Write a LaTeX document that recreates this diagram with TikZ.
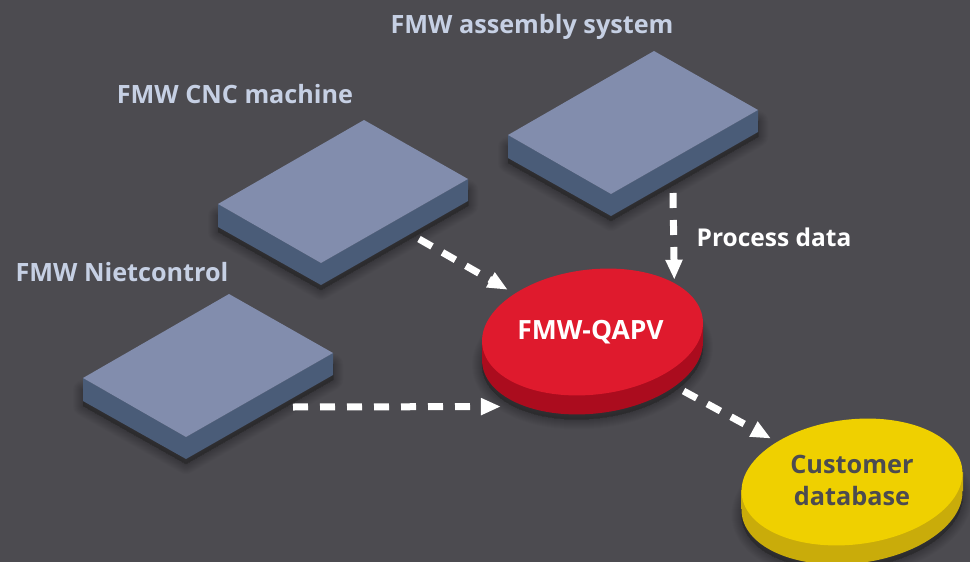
\documentclass[tikz,border=0pt]{standalone}
\usepackage{fontspec}
\setmainfont{Open Sans}
\usetikzlibrary{arrows.meta,shapes.geometric}
\definecolor{bg}{HTML}{4C4B50}
\definecolor{boxtop}{HTML}{828DAD}
\definecolor{boxside}{HTML}{4A5C78}
\definecolor{lab}{HTML}{C6D0E4}
\definecolor{redtop}{HTML}{DF1A2D}
\definecolor{redside}{HTML}{AB0C1E}
\definecolor{yeltop}{HTML}{EFD000}
\definecolor{yelside}{HTML}{C9AC0A}
\tikzset{
  x=1pt,y=-1pt,
  toplabel/.style={font=\fontsize{25.2}{25}\selectfont\bfseries,text=lab,inner sep=0pt},
  processlabel/.style={font=\fontsize{24.5}{25}\selectfont\bfseries,text=white,inner sep=0pt},
  flow/.style={draw=white,line width=7pt,dash pattern=on 15pt off 12pt,
    -{Triangle[length=20pt,width=16pt,fill=white]}},
  disc/.style={ellipse,minimum width=222pt,minimum height=125pt,inner sep=0pt,outer sep=0pt,rotate=6.8},
  qapvtext/.style={font=\fontsize{26.5}{32}\selectfont\bfseries,inner sep=0pt,align=center},
  custtext/.style={font=\fontsize{25.3}{32}\selectfont\bfseries,inner sep=0pt,align=center},
  softshadow/.style={fill=black,draw=black,opacity=0.018,line join=round},
}
\newcommand{\slab}[2]{%
  \begin{scope}[shift={(#1,#2)}]
    \foreach \w in {2,4,...,20}
      \draw[softshadow,line width=\w pt] (218,232)--(321,290)--(468,206)--(468,190)--(321,274)--(218,216)--cycle;
    \fill[boxside] (218,204)--(321,263)--(468,179)--(468,201)--(321,285)--(218,227)--cycle;
    \fill[boxtop] (218,204)--(364,120)--(468,179)--(321,263)--cycle;
  \end{scope}}
\begin{document}
\begin{tikzpicture}
\useasboundingbox (0,0) rectangle (970,562);
\clip (0,0) rectangle (970,562);
\fill[bg] (0,0) rectangle (970,562);
% boxes
\slab{290}{-69}
\slab{0}{0}
\slab{-135}{174}
% disc shadows
\foreach \w in {2,4,...,20}{
  \draw[softshadow,line width=\w pt,rotate around={6.8:(592.5,356)}] (592.5,356) ellipse (111 and 62.5);
  \draw[softshadow,line width=\w pt,rotate around={6.8:(852,506)}] (852,506) ellipse (111 and 62.5);
}
% red disc
\fill[redside] (482,340)--(703,322)--(703,341)--(482,359)--cycle;
\node[disc,fill=redside] (qapvbase) at (592.5,351) {};
\node[disc,fill=redtop] (qapv) at (592.5,332) {};
% yellow disc
\fill[yelside] (741,490)--(963,472)--(963,491)--(741,509)--cycle;
\node[disc,fill=yelside] (custbase) at (852,501) {};
\node[disc,fill=yeltop] (cust) at (852,482) {};
% labels
\node[toplabel] (lassembly) at (532,27) {FMW assembly system};
\node[toplabel] (lcnc) at (235,94) {FMW CNC machine};
\node[toplabel] (lniet) at (122,272) {FMW Nietcontrol};
\node[qapvtext,text=white] (tqapv) at (590.5,332) {FMW-QAPV};
\node[custtext,text=bg] (tcust) at (852,480) {Customer\\database};
\node[processlabel] (lprocess) at (774,237) {Process data};
% connector free ends
\coordinate (cncout) at (419,239);
\coordinate (asmout) at (673,193);
\coordinate (nietout) at (293,407);
% connectors
\draw[flow,shorten >=8pt] (cncout) -- (qapv.147);
\draw[flow,shorten >=3.5pt] (asmout) -- (qapv.24.8);
\draw[flow,shorten >=25pt] (nietout) -- (qapvbase.213.9);
\draw[flow,shorten <=10pt,shorten >=7pt] (qapvbase.330.3) -- (cust.145.7);
\end{tikzpicture}
\end{document}
